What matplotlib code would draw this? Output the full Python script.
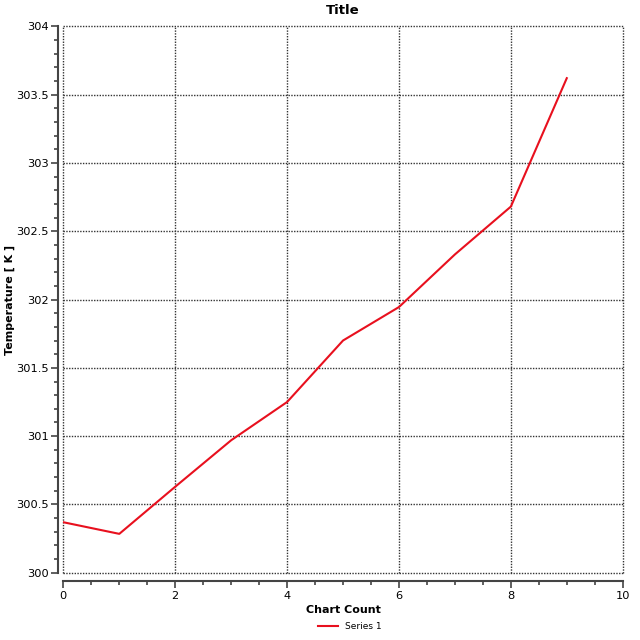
import numpy as np
import matplotlib.pyplot as plt
from matplotlib.ticker import MultipleLocator

# chart count vs temperature
count = [0, 1, 2, 3, 4, 5, 6, 7, 8, 9]
temperature = [300.37, 300.285, 300.63, 300.97, 301.25, 301.70,
               301.945, 302.33, 302.68, 303.62]

plt.rcParams['font.family'] = ['DejaVu Sans']

fig = plt.figure(figsize=(6.4, 6.4), dpi=100)
ax = fig.add_axes([0.099, 0.105, 0.874, 0.854])

ax.plot(count, temperature, color='#e8101e', lw=1.5, label='Series 1')

ax.set_xlim(0, 10)
ax.set_ylim(300, 304)
ax.xaxis.set_major_locator(MultipleLocator(2))
ax.xaxis.set_minor_locator(MultipleLocator(0.5))
ax.yaxis.set_major_locator(MultipleLocator(0.5))
ax.yaxis.set_minor_locator(MultipleLocator(0.1))
ax.set_yticks(np.arange(300, 304.01, 0.5))
ax.set_yticklabels(['300', '300.5', '301', '301.5', '302', '302.5', '303', '303.5', '304'])

ax.grid(True, which='major', color='#333333', linestyle=(0, (1, 1)), lw=1.0)

for s in ['top', 'right']:
    ax.spines[s].set_visible(False)
ax.spines['left'].set_position(('outward', 3.6))
ax.spines['bottom'].set_position(('outward', 5.8))
for s in ['left', 'bottom']:
    ax.spines[s].set_color('#444444')
    ax.spines[s].set_linewidth(1.5)

ax.tick_params(which='major', length=5, width=1.2, color='#444444', labelsize=8.2, pad=2,
               grid_clip_on=False)
ax.tick_params(which='minor', length=3, width=1.2, color='#444444')

ax.set_title('Title', fontsize=9.5, fontweight='bold', pad=9)
ax.set_xlabel('Chart Count', fontsize=8, fontweight='bold', labelpad=3)
ax.set_ylabel('Temperature [ K ]', fontsize=8, fontweight='bold')
ax.yaxis.set_label_coords(-0.087, 0.5)

leg = ax.legend(loc='upper center', bbox_to_anchor=(0.512, -0.075), frameon=False,
                fontsize=6.5, handlelength=2.2, handletextpad=0.8)

plt.savefig('out.png', dpi=100)
